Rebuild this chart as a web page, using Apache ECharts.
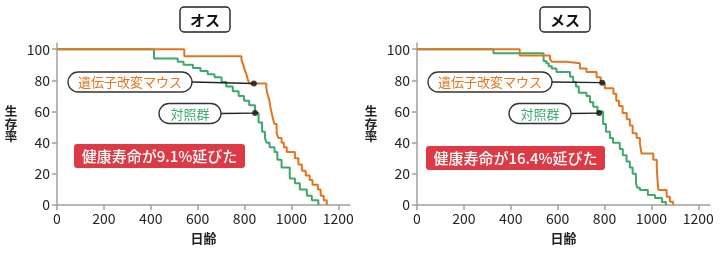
<!DOCTYPE html>
<html><head><meta charset="utf-8">
<script src="https://cdn.jsdelivr.net/npm/echarts@6/dist/echarts.min.js"></script>
<style>html,body{margin:0;padding:0;background:#fff}#c{width:720px;height:260px}</style>
</head><body><div id="c"></div>
<script>
// ---- data ----
const panelTitles = ['オス', 'メス'];
const seriesNames = ['遺伝子改変マウス', '対照群'];
const xAxisName = '日齢';
const yAxisName = '生存率';
const xTicks = [0, 200, 400, 600, 800, 1000, 1200];
const yTicks = [0, 20, 40, 60, 80, 100];
const gainLabels = ['健康寿命が9.1%延びた', '健康寿命が16.4%延びた'];

// Kaplan-Meier style survival: [day, survival % after the drop]
const maleGene = [[0,100],[543,95.5],[787,93],[795,90],[800,87],[808,84],[815,80],[822,78],[893,75],[898,71],[905,68],[910,63],[916,59],[922,55],[928,52],[937,46],[945,43],[958,40],[968,37],[980,34],[1015,30],[1030,26],[1045,22],[1061,19],[1078,16],[1090,13],[1113,10],[1125,6],[1138,3],[1151,0]];
const maleControl = [[0,100],[414,94],[515,92],[540,90],[580,88],[612,86],[643,84],[672,82],[702,79],[722,76],[750,73],[775,70],[798,67],[820,64],[845,59],[860,53],[875,47],[887,43],[894,40],[907,37],[928,34],[940,29],[958,24],[993,17],[1015,14],[1036,10],[1066,6],[1087,3],[1115,0]];
const femaleGene = [[0,100],[438,96],[567,94],[574,92],[638,91],[695,87.6],[723,85.4],[766,82],[784,78.5],[801,75],[838,71.5],[850,67],[862,63.5],[877,59],[895,55],[908,51],[920,46],[937,43],[951,39.5],[958,33],[1008,29],[1023,24],[1025,19],[1027,14],[1030,9.6],[1065,5.3],[1079,2.1],[1093,0]];
const femaleControl = [[0,100],[326,97.5],[540,92.5],[552,91],[562,89],[575,87.6],[595,85.4],[653,82.3],[666,79],[678,76],[690,72],[723,70],[738,66],[752,63],[770,60],[794,52],[806,47],[823,43],[836,40],[865,36],[878,32],[894,28],[908,24],[920,20],[934,14],[940,11],[951,9.6],[985,6.4],[1015,4.5],[1045,2],[1062,0]];

// points on the curves that the callout labels point to: [day, survival]
const maleGeneCallout = [840, 78];
const maleControlCallout = [845, 59];
const femaleGeneCallout = [790, 78.5];
const femaleControlCallout = [777, 59];

// ---- styles / layout ----
const ORANGE = '#e3751f', GREEN = '#3ca96a', RED = '#de3a45', AX = '#a0a0a0', TXT = '#222';
const FONT = '"Noto Sans CJK JP", "Noto Sans", sans-serif';
const gridLefts = [57, 417];

const panels = [
  {gene: maleGene, control: maleControl, geneDot: maleGeneCallout, ctrlDot: maleControlCallout},
  {gene: femaleGene, control: femaleControl, geneDot: femaleGeneCallout, ctrlDot: femaleControlCallout}
];

const chart = echarts.init(document.getElementById('c'), null, {renderer: 'canvas'});

const grids = [], xAxes = [], yAxes = [], series = [];
panels.forEach((p, i) => {
  grids.push({left: gridLefts[i], top: 43, width: 293, height: 162});
  xAxes.push({
    type: 'value', gridIndex: i, min: 0, max: 1250,
    axisLine: {show: true, lineStyle: {color: AX, width: 1.5}},
    axisTick: {show: true, customValues: xTicks, length: 5, lineStyle: {color: AX, width: 1.5}},
    axisLabel: {customValues: xTicks, formatter: v => String(v), color: TXT, fontSize: 14, margin: 7, fontFamily: FONT},
    splitLine: {show: false},
    name: xAxisName, nameLocation: 'middle', nameGap: 27,
    nameTextStyle: {color: TXT, fontSize: 13, fontFamily: FONT, fontWeight: 'bold'}
  });
  yAxes.push({
    type: 'value', gridIndex: i, min: 0, max: 104,
    axisLine: {show: true, lineStyle: {color: AX, width: 1.5}},
    axisTick: {show: true, customValues: yTicks, length: 5, lineStyle: {color: AX, width: 1.5}},
    axisLabel: {customValues: yTicks, formatter: v => String(v), color: TXT, fontSize: 14, margin: 7, fontFamily: FONT},
    splitLine: {show: false}
  });
  series.push({
    type: 'line', name: seriesNames[1], xAxisIndex: i, yAxisIndex: i, step: 'end',
    data: p.control, symbol: 'none', lineStyle: {color: GREEN, width: 2}, z: 2, animation: false
  });
  series.push({
    type: 'line', name: seriesNames[0], xAxisIndex: i, yAxisIndex: i, step: 'end',
    data: p.gene, symbol: 'none', lineStyle: {color: ORANGE, width: 2}, z: 3, animation: false
  });
  series.push({
    type: 'scatter', xAxisIndex: i, yAxisIndex: i, data: [p.geneDot, p.ctrlDot],
    symbolSize: 6, itemStyle: {color: '#111'}, z: 5, animation: false, silent: true
  });
});

chart.setOption({
  animation: false,
  backgroundColor: '#fff',
  grid: grids, xAxis: xAxes, yAxis: yAxes, series: series
});

// ---- annotations ----
const pillLayout = [
  {gene: {cx: 130, cy: 82, w: 124}, ctrl: {cx: 190, cy: 113.5, w: 62}},
  {gene: {cx: 490, cy: 82, w: 124}, ctrl: {cx: 540, cy: 113.5, w: 62}}
];
const badgeLayout = [{x: 74, y: 144, w: 171}, {x: 426, y: 146, w: 179}];
const titleCenters = [205, 565];

const g = [];
function pill(panelIdx, lay, text, color, dot) {
  const pt = chart.convertToPixel({gridIndex: panelIdx}, dot);
  const h = 20;
  g.push({type: 'line', shape: {x1: lay.cx + lay.w / 2, y1: lay.cy, x2: pt[0], y2: pt[1]},
          style: {stroke: '#222', lineWidth: 1.3}, z: 10});
  g.push({type: 'rect', shape: {x: lay.cx - lay.w / 2, y: lay.cy - h / 2, width: lay.w, height: h, r: h / 2},
          style: {fill: '#fff', stroke: '#333', lineWidth: 1.3}, z: 11});
  g.push({type: 'text', style: {text: text, x: lay.cx, y: lay.cy + 0.5, align: 'center', verticalAlign: 'middle',
          fill: color, font: '13px ' + FONT}, z: 12});
}
panels.forEach((p, i) => {
  pill(i, pillLayout[i].gene, seriesNames[0], ORANGE, p.geneDot);
  pill(i, pillLayout[i].ctrl, seriesNames[1], GREEN, p.ctrlDot);
  const b = badgeLayout[i];
  g.push({type: 'rect', shape: {x: b.x, y: b.y, width: b.w, height: 24, r: 3}, style: {fill: RED}, z: 11});
  g.push({type: 'text', style: {text: gainLabels[i], x: b.x + b.w / 2, y: b.y + 12.5, align: 'center',
          verticalAlign: 'middle', fill: '#fff', font: '500 15px ' + FONT}, z: 12});
  const tc = titleCenters[i];
  g.push({type: 'rect', shape: {x: tc - 25, y: 7, width: 50, height: 25, r: 4},
          style: {fill: '#fff', stroke: '#222', lineWidth: 1.4}, z: 11});
  g.push({type: 'text', style: {text: panelTitles[i], x: tc, y: 20, align: 'center', verticalAlign: 'middle',
          fill: '#111', font: 'bold 15px ' + FONT}, z: 12});
  g.push({type: 'text', style: {text: yAxisName.split('').join('\n'), x: gridLefts[i] - 46, y: 124,
          align: 'center', verticalAlign: 'middle', lineHeight: 12.5, fill: TXT,
          font: 'bold 12.5px ' + FONT}, z: 12});
});
chart.setOption({graphic: {elements: g}});
</script>
</body></html>
